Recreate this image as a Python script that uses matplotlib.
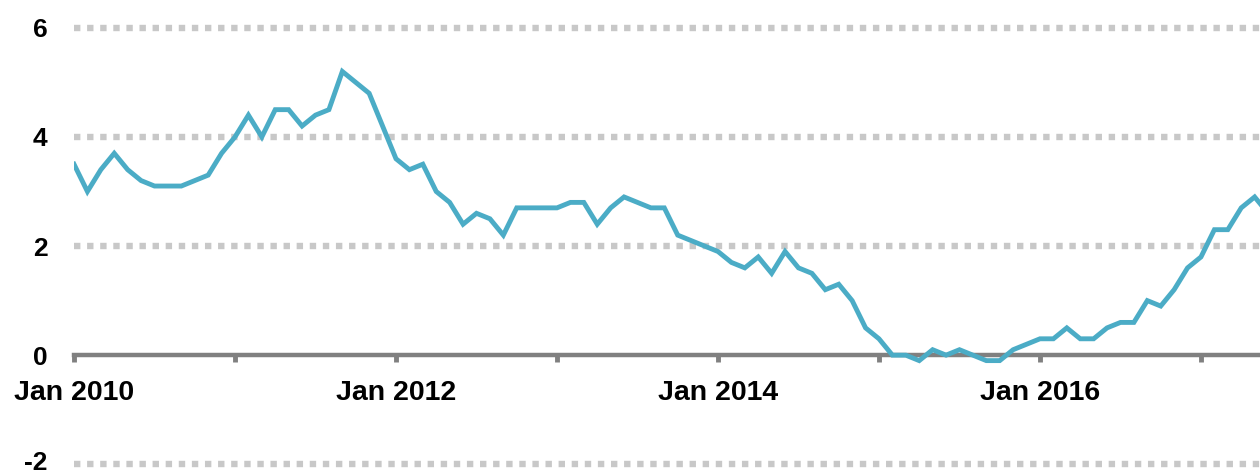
import matplotlib
matplotlib.use("Agg")
import matplotlib.pyplot as plt
import matplotlib.transforms as mtransforms

# monthly values, Jan 2010 .. Jun 2017
values = [
    3.5, 3.0, 3.4, 3.7, 3.4, 3.2, 3.1, 3.1, 3.1, 3.2, 3.3, 3.7,   # 2010
    4.0, 4.4, 4.0, 4.5, 4.5, 4.2, 4.4, 4.5, 5.2, 5.0, 4.8, 4.2,   # 2011
    3.6, 3.4, 3.5, 3.0, 2.8, 2.4, 2.6, 2.5, 2.2, 2.7, 2.7, 2.7,   # 2012
    2.7, 2.8, 2.8, 2.4, 2.7, 2.9, 2.8, 2.7, 2.7, 2.2, 2.1, 2.0,   # 2013
    1.9, 1.7, 1.6, 1.8, 1.5, 1.9, 1.6, 1.5, 1.2, 1.3, 1.0, 0.5,   # 2014
    0.3, 0.0, 0.0, -0.1, 0.1, 0.0, 0.1, 0.0, -0.1, -0.1, 0.1, 0.2,  # 2015
    0.3, 0.3, 0.5, 0.3, 0.3, 0.5, 0.6, 0.6, 1.0, 0.9, 1.2, 1.6,   # 2016
    1.8, 2.3, 2.3, 2.7, 2.9, 2.6,                                 # 2017
]
months = list(range(len(values)))
year_ticks = list(range(0, 96, 12))
tick_labels = ["Jan 2010", "", "Jan 2012", "", "Jan 2014", "", "Jan 2016", ""]
y_ticks = [-2, 0, 2, 4, 6]

plt.rcParams["font.family"] = ["Liberation Sans", "DejaVu Sans"]
plt.rcParams["font.weight"] = "bold"

fig = plt.figure(figsize=(12.6, 4.73), dpi=100)
ax = fig.add_axes([74 / 1260, 0, 1 - 74 / 1260, 1])

ax.set_xlim(0, 88.4)
ax.set_ylim(-2.16, 6.51)

for y in [-2, 2, 4, 6]:
    ax.axhline(y, color="#c8c8c8", linewidth=4.6, linestyle=(0, (1, 1.05)),
               dash_capstyle="butt", zorder=1)

ax.plot(months, values, color="#4bacc6", linewidth=3.5, zorder=3,
        solid_joinstyle="miter")

for side in ["top", "right", "left"]:
    ax.spines[side].set_visible(False)
ax.spines["bottom"].set_position(("data", 0))
ax.spines["bottom"].set_color("#808080")
ax.spines["bottom"].set_linewidth(3.2)
ax.spines["bottom"].set_zorder(2)

ax.set_xticks(year_ticks)
ax.set_xticklabels(tick_labels, fontsize=20.5, fontweight="bold")
ax.tick_params(axis="x", direction="out", length=5, width=3.5, color="#808080", pad=13)

ax.set_yticks(y_ticks)
ax.set_yticklabels([str(v) for v in y_ticks], fontsize=19, fontweight="bold")
ax.tick_params(axis="y", length=0, pad=19)

# nudge the bottom label up a little so it is not clipped by the figure edge
lbl = ax.get_yticklabels()[0]
lbl.set_transform(lbl.get_transform() +
                  mtransforms.ScaledTranslation(0, 3 / 72, fig.dpi_scale_trans))

fig.savefig("out.png", dpi=100)
